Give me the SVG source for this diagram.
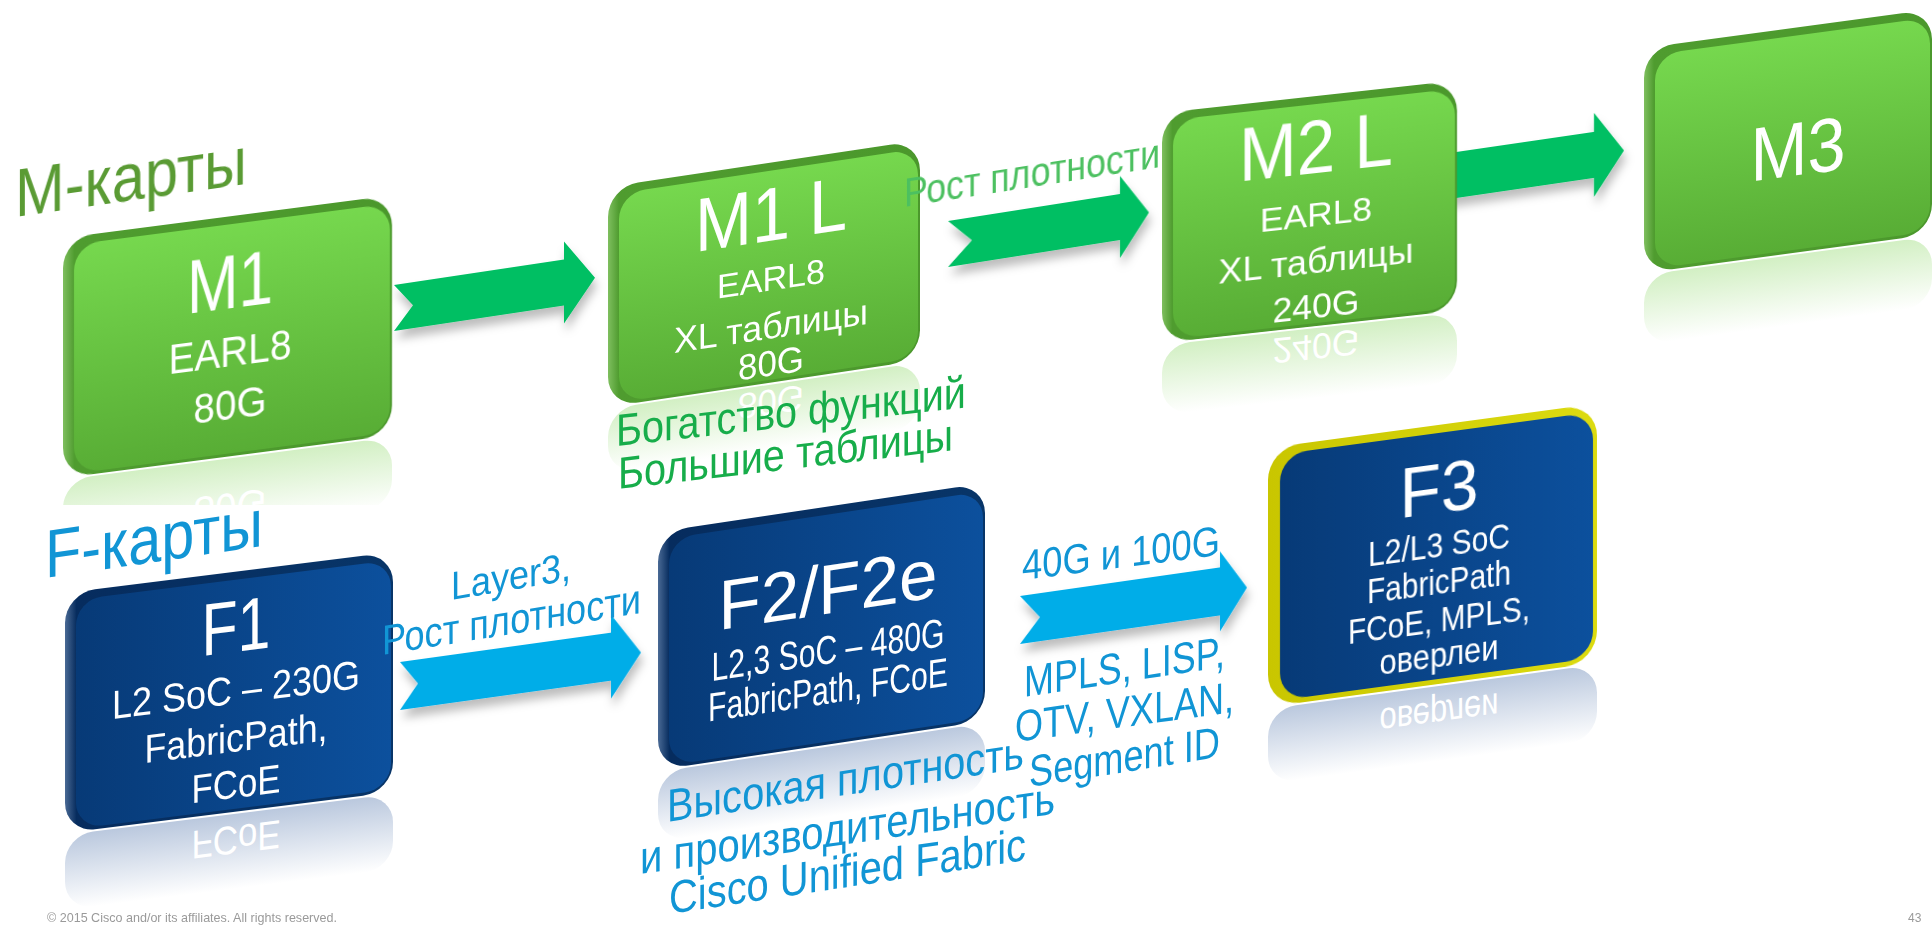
<svg xmlns="http://www.w3.org/2000/svg" width="1932" height="925" viewBox="0 0 1932 925">
<defs>
  <linearGradient id="gFace" x1="0" y1="0" x2="0" y2="1"><stop offset="0" stop-color="#76d84e"/><stop offset="1" stop-color="#58ad35"/></linearGradient>
  <linearGradient id="gRim" x1="0" y1="0" x2="1" y2="0"><stop offset="0" stop-color="#7fbf5f"/><stop offset="0.035" stop-color="#4f9c2f"/><stop offset="1" stop-color="#4b982c"/></linearGradient>
  <linearGradient id="bFace" x1="0" y1="0" x2="1" y2="0"><stop offset="0" stop-color="#073a77"/><stop offset="1" stop-color="#0c509d"/></linearGradient>
  <linearGradient id="bRim" x1="0" y1="0" x2="1" y2="0"><stop offset="0" stop-color="#4a6a95"/><stop offset="0.035" stop-color="#062c5e"/><stop offset="1" stop-color="#083568"/></linearGradient>
  <linearGradient id="yRim" x1="0" y1="0" x2="1" y2="0"><stop offset="0" stop-color="#c9c600"/><stop offset="1" stop-color="#dcdb10"/></linearGradient>
  <linearGradient id="gRefl" x1="0" y1="0" x2="0" y2="1"><stop offset="0" stop-color="#8fd86a" stop-opacity="0.4"/><stop offset="1" stop-color="#8fd86a" stop-opacity="0"/></linearGradient>
  <linearGradient id="bRefl" x1="0" y1="0" x2="0" y2="1"><stop offset="0" stop-color="#4a6fa8" stop-opacity="0.38"/><stop offset="1" stop-color="#4a6fa8" stop-opacity="0"/></linearGradient>
  <filter id="sh" x="-10%" y="-30%" width="130%" height="180%"><feDropShadow dx="2" dy="8" stdDeviation="5" flood-color="#000" flood-opacity="0.26"/></filter>
  <clipPath id="cutM1"><rect x="0" y="0" width="600" height="505"/></clipPath>
</defs>
<style>
  .bt{font-family:"Liberation Sans",Arial,sans-serif;fill:#ffffff;text-anchor:middle}
  .rt{font-family:"Liberation Sans",Arial,sans-serif;fill:#ffffff;text-anchor:middle}
  .lb{font-family:"Liberation Sans",Arial,sans-serif}
  .mg{fill:#5a9b34}
  .lg{fill:#4cc060}
  .gr{fill:#17ad4a}
  .bl{fill:#1195d5}
  .ga{fill:#00bf63}
  .ba{fill:#00ade8}
  .ft{font-family:"Liberation Sans",Arial,sans-serif;fill:#9a9a9a}
</style>
<rect width="1932" height="925" fill="#ffffff"/>

<!-- reflections -->
<g id="reflections">
  <g clip-path="url(#cutM1)"><g transform="matrix(1,-0.13,0,1,63,238)">
    <rect x="0" y="242" width="329" height="70" rx="28" fill="url(#gRefl)"/>
    <text class="rt" x="167" y="203" font-size="43" textLength="73" lengthAdjust="spacingAndGlyphs" transform="matrix(1,0,0,-1,0,480)">80G</text>
  </g></g>
  <g transform="matrix(1,-0.15,0,1,608,187)">
    <rect x="0" y="222" width="312" height="65" rx="28" fill="url(#gRefl)"/>
    <text class="rt" x="163" y="213" font-size="36" textLength="66" lengthAdjust="spacingAndGlyphs" transform="matrix(1,0,0,-1,0,440)">80G</text>
  </g>
  <g transform="matrix(1,-0.11,0,1,1162,113)">
    <rect x="0" y="232" width="295" height="70" rx="28" fill="url(#gRefl)"/>
    <text class="rt" x="154" y="222" font-size="36" textLength="87" lengthAdjust="spacingAndGlyphs" transform="matrix(1,0,0,-1,0,460)">240G</text>
  </g>
  <g transform="matrix(1,-0.135,0,1,1644,48)">
    <rect x="0" y="227" width="288" height="70" rx="28" fill="url(#gRefl)"/>
  </g>
  <g transform="matrix(1,-0.125,0,1,65,593)">
    <rect x="0" y="242" width="328" height="75" rx="28" fill="url(#bRefl)"/>
    <text class="rt" x="171" y="226" font-size="40" textLength="89" lengthAdjust="spacingAndGlyphs" transform="matrix(1,0,0,-1,0,480)">FCoE</text>
  </g>
  <g transform="matrix(1,-0.15,0,1,658,532)">
    <rect x="0" y="240" width="327" height="70" rx="28" fill="url(#bRefl)"/>
  </g>
  <g transform="matrix(1,-0.135,0,1,1268,448)">
    <rect x="0" y="261" width="329" height="75" rx="28" fill="url(#bRefl)"/>
    <text class="rt" x="171" y="242" font-size="38" textLength="119" lengthAdjust="spacingAndGlyphs" transform="matrix(1,0,0,-1,0,518)">оверлеи</text>
  </g>
</g>

<!-- connectors -->
<g id="connectors" filter="url(#sh)">
  <path class="ga" transform="matrix(1,-0.15,0,1,394,308)" d="M0,-23 L170,-23 L170,-41 L201,0 L170,41 L170,23 L0,23 L19,0 Z"/>
  <path class="ga" transform="matrix(1,-0.157,0,1,948,244)" d="M0,-23 L172,-23 L172,-41 L201,0 L172,41 L172,23 L0,23 L24,0 Z"/>
  <path class="ga" transform="matrix(1,-0.146,0,1,1422,180)" d="M0,-23 L172,-23 L172,-42 L202,0 L172,42 L172,23 L0,23 L20,0 Z"/>
  <path class="ba" transform="matrix(1,-0.139,0,1,400,686)" d="M0,-24 L211,-24 L211,-42 L241,0 L211,42 L211,24 L0,24 L18,0 Z"/>
  <path class="ba" transform="matrix(1,-0.143,0,1,1020,620)" d="M0,-24 L200,-24 L200,-40 L227,0 L200,40 L200,24 L0,24 L20,0 Z"/>
</g>

<!-- M nodes -->
<g id="node-m1" transform="matrix(1,-0.13,0,1,63,238)">
  <rect width="329" height="240" rx="30" fill="url(#gRim)"/>
  <rect x="11" y="8" width="316" height="229" rx="26" fill="url(#gFace)"/>
  <text class="bt" x="167" y="92" font-size="76" textLength="86" lengthAdjust="spacingAndGlyphs">M1</text>
  <text class="bt" x="167" y="150" font-size="42" textLength="123" lengthAdjust="spacingAndGlyphs">EARL8</text>
  <text class="bt" x="167" y="203" font-size="43" textLength="73" lengthAdjust="spacingAndGlyphs">80G</text>
</g>
<g id="node-m1l" transform="matrix(1,-0.15,0,1,608,187)">
  <rect width="312" height="220" rx="30" fill="url(#gRim)"/>
  <rect x="11" y="8" width="299" height="209" rx="26" fill="url(#gFace)"/>
  <text class="bt" x="163" y="78" font-size="76" textLength="152" lengthAdjust="spacingAndGlyphs">M1 L</text>
  <text class="bt" x="163" y="128" font-size="34" textLength="108" lengthAdjust="spacingAndGlyphs">EARL8</text>
  <text class="bt" x="163" y="176" font-size="36" textLength="194" lengthAdjust="spacingAndGlyphs">XL таблицы</text>
  <text class="bt" x="163" y="213" font-size="36" textLength="66" lengthAdjust="spacingAndGlyphs">80G</text>
</g>
<g id="node-m2l" transform="matrix(1,-0.11,0,1,1162,113)">
  <rect width="295" height="230" rx="30" fill="url(#gRim)"/>
  <rect x="11" y="8" width="282" height="219" rx="26" fill="url(#gFace)"/>
  <text class="bt" x="154" y="77" font-size="76" textLength="154" lengthAdjust="spacingAndGlyphs">M2 L</text>
  <text class="bt" x="154" y="130" font-size="34" textLength="112" lengthAdjust="spacingAndGlyphs">EARL8</text>
  <text class="bt" x="154" y="177" font-size="36" textLength="195" lengthAdjust="spacingAndGlyphs">XL таблицы</text>
  <text class="bt" x="154" y="222" font-size="36" textLength="87" lengthAdjust="spacingAndGlyphs">240G</text>
</g>
<g id="node-m3" transform="matrix(1,-0.135,0,1,1644,48)">
  <rect width="288" height="225" rx="30" fill="url(#gRim)"/>
  <rect x="11" y="8" width="275" height="214" rx="26" fill="url(#gFace)"/>
  <text class="bt" x="154" y="148" font-size="76" textLength="95" lengthAdjust="spacingAndGlyphs">M3</text>
</g>

<!-- F nodes -->
<g id="node-f1" transform="matrix(1,-0.125,0,1,65,593)">
  <rect width="328" height="240" rx="30" fill="url(#bRim)"/>
  <rect x="11" y="8" width="315" height="229" rx="26" fill="url(#bFace)"/>
  <text class="bt" x="171" y="80" font-size="74" textLength="69" lengthAdjust="spacingAndGlyphs">F1</text>
  <text class="bt" x="171" y="132" font-size="40" textLength="248" lengthAdjust="spacingAndGlyphs">L2 SoC – 230G</text>
  <text class="bt" x="171" y="180" font-size="40" textLength="183" lengthAdjust="spacingAndGlyphs">FabricPath,</text>
  <text class="bt" x="171" y="226" font-size="40" textLength="89" lengthAdjust="spacingAndGlyphs">FCoE</text>
</g>
<g id="node-f2" transform="matrix(1,-0.15,0,1,658,532)">
  <rect width="327" height="238" rx="30" fill="url(#bRim)"/>
  <rect x="11" y="8" width="314" height="227" rx="26" fill="url(#bFace)"/>
  <text class="bt" x="170" y="107" font-size="70" textLength="219" lengthAdjust="spacingAndGlyphs">F2/F2e</text>
  <text class="bt" x="170" y="157" font-size="40" textLength="233" lengthAdjust="spacingAndGlyphs">L2,3 SoC – 480G</text>
  <text class="bt" x="170" y="197" font-size="40" textLength="240" lengthAdjust="spacingAndGlyphs">FabricPath, FCoE</text>
</g>
<g id="node-f3" transform="matrix(1,-0.135,0,1,1268,448)">
  <rect width="329" height="259" rx="32" fill="url(#yRim)"/>
  <rect x="12" y="8" width="313" height="246" rx="27" fill="url(#bFace)"/>
  <text class="bt" x="171" y="88" font-size="70" textLength="79" lengthAdjust="spacingAndGlyphs">F3</text>
  <text class="bt" x="171" y="132" font-size="36" textLength="142" lengthAdjust="spacingAndGlyphs">L2/L3 SoC</text>
  <text class="bt" x="171" y="169" font-size="36" textLength="144" lengthAdjust="spacingAndGlyphs">FabricPath</text>
  <text class="bt" x="171" y="207" font-size="36" textLength="182" lengthAdjust="spacingAndGlyphs">FCoE, MPLS,</text>
  <text class="bt" x="171" y="242" font-size="36" textLength="119" lengthAdjust="spacingAndGlyphs">оверлеи</text>
</g>

<!-- free labels -->
<g id="labels">
  <text class="lb mg" transform="matrix(1,-0.143,0,1,15,217)" font-size="68" textLength="232" lengthAdjust="spacingAndGlyphs">М-карты</text>
  <text class="lb lg" transform="matrix(1,-0.156,0,1,904,207)" font-size="40" textLength="256" lengthAdjust="spacingAndGlyphs">Рост плотности</text>
  <text class="lb gr" transform="matrix(1,-0.11,0,1,616,446)" font-size="45" textLength="350" lengthAdjust="spacingAndGlyphs">Богатство функций</text>
  <text class="lb gr" transform="matrix(1,-0.116,0,1,618,489)" font-size="45" textLength="335" lengthAdjust="spacingAndGlyphs">Большие таблицы</text>
  <text class="lb bl" transform="matrix(1,-0.147,0,1,45,578)" font-size="68" textLength="218" lengthAdjust="spacingAndGlyphs">F-карты</text>
  <text class="lb bl" transform="matrix(1,-0.167,0,1,451,600)" font-size="40" textLength="120" lengthAdjust="spacingAndGlyphs">Layer3,</text>
  <text class="lb bl" transform="matrix(1,-0.162,0,1,382,655)" font-size="42" textLength="259" lengthAdjust="spacingAndGlyphs">Рост плотности</text>
  <text class="lb bl" transform="matrix(1,-0.126,0,1,1022,580)" font-size="42" textLength="198" lengthAdjust="spacingAndGlyphs">40G и 100G</text>
  <text class="lb bl" transform="matrix(1,-0.15,0,1,1024,697)" font-size="44" textLength="201" lengthAdjust="spacingAndGlyphs">MPLS, LISP,</text>
  <text class="lb bl" transform="matrix(1,-0.137,0,1,1015,742)" font-size="44" textLength="219" lengthAdjust="spacingAndGlyphs">OTV, VXLAN,</text>
  <text class="lb bl" transform="matrix(1,-0.157,0,1,1029,787)" font-size="44" textLength="191" lengthAdjust="spacingAndGlyphs">Segment ID</text>
  <text class="lb bl" transform="matrix(1,-0.151,0,1,667,822)" font-size="46" textLength="357" lengthAdjust="spacingAndGlyphs">Высокая плотность</text>
  <text class="lb bl" transform="matrix(1,-0.145,0,1,640,874)" font-size="46" textLength="415" lengthAdjust="spacingAndGlyphs">и производительность</text>
  <text class="lb bl" transform="matrix(1,-0.151,0,1,669,914)" font-size="46" textLength="357" lengthAdjust="spacingAndGlyphs">Cisco Unified Fabric</text>
  <text class="ft" x="47" y="922" font-size="13" textLength="290" lengthAdjust="spacingAndGlyphs">© 2015 Cisco and/or its affiliates. All rights reserved.</text>
  <text class="ft" x="1908" y="922" font-size="12">43</text>
</g>
</svg>
